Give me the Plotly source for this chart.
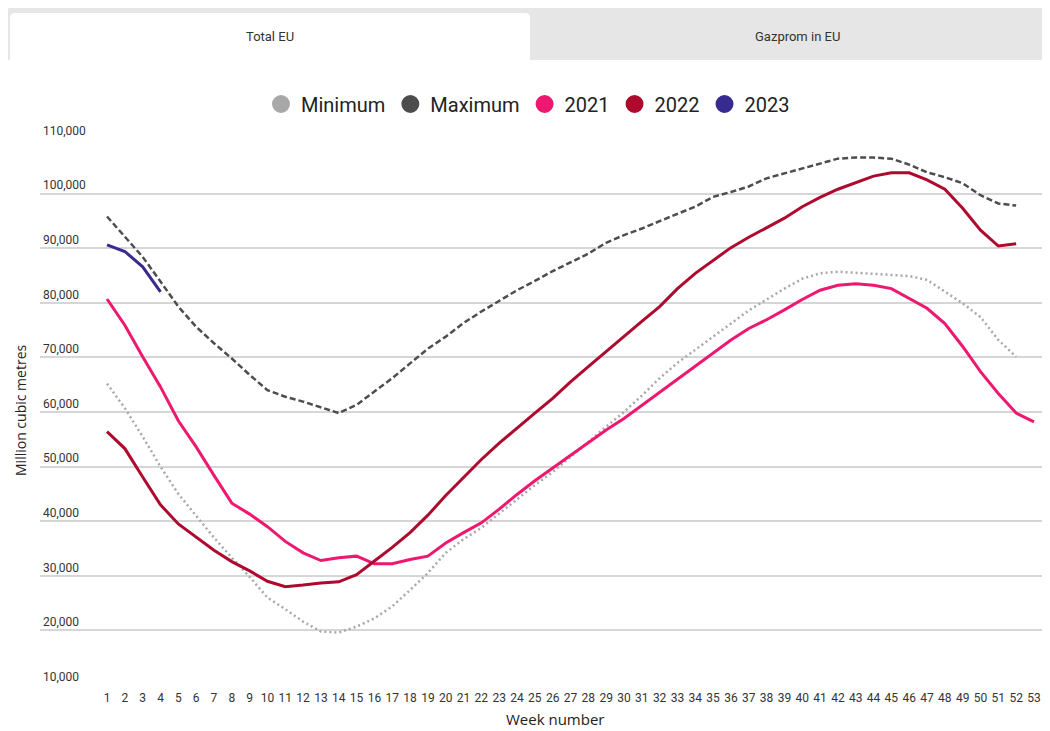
import plotly.graph_objects as go

# weekly gas storage, million cubic metres
weeks = list(range(1, 54))

minimum = [65200, 60700, 55500, 50000, 45000, 41000, 37000, 33300, 29800, 26000,
           23900, 21600, 19800, 19600, 20700, 22200, 24400, 27400, 30500, 34200,
           36700, 38800, 41400, 44000, 46600, 49000, 51800, 54600, 57300, 60000,
           63000, 66200, 69000, 71400, 73800, 76200, 78600, 80600, 82600, 84400,
           85400, 85700, 85500, 85400, 85200, 84900, 84200, 82000, 79900, 77400,
           73200, 70100]

maximum = [95800, 92100, 88400, 83900, 79300, 75600, 72600, 69800, 66800, 64000,
           62800, 61900, 60900, 59800, 61300, 63700, 66200, 68900, 71600, 73800,
           76300, 78400, 80400, 82300, 84000, 85800, 87400, 89000, 91000, 92400,
           93600, 95000, 96300, 97600, 99400, 100300, 101300, 102800, 103700, 104600,
           105600, 106400, 106600, 106600, 106400, 105300, 103900, 103000, 101900, 99700,
           98200, 97800]

y2021 = [80700, 75900, 70100, 64600, 58400, 53600, 48400, 43300, 41300, 39000,
         36300, 34200, 32800, 33300, 33600, 32200, 32200, 33000, 33600, 36000,
         37900, 39700, 42200, 44900, 47400, 49700, 52000, 54400, 56700, 58800,
         61200, 63500, 65900, 68300, 70700, 73200, 75300, 76900, 78700, 80600,
         82300, 83200, 83500, 83200, 82600, 80800, 79000, 76200, 72000, 67400,
         63400, 59800, 58200]

y2022 = [56400, 53300, 48100, 43000, 39500, 37100, 34700, 32600, 30900, 29000,
         28000, 28300, 28700, 28900, 30200, 32700, 35200, 37900, 41100, 44700,
         48000, 51300, 54300, 57100, 59800, 62500, 65500, 68300, 71100, 73800,
         76600, 79300, 82600, 85400, 87800, 90100, 92000, 93800, 95500, 97600,
         99300, 100800, 102000, 103200, 103800, 103800, 102500, 100800, 97300, 93300,
         90400, 90800]

y2023 = [90600, 89400, 86600, 82000]

y_ticks = list(range(10000, 110001, 10000))

series = [
    ("Minimum", minimum, "#a8a8a8", "2px,3px", 2.5),
    ("Maximum", maximum, "#4d4d4d", "6px,3px", 2.5),
    ("2021", y2021, "#ee1870", "solid", 3),
    ("2022", y2022, "#ad0a2e", "solid", 3),
    ("2023", y2023, "#372a90", "solid", 3),
]

# page has an 8px body margin, so positions are given in page pixels
OFF = 8
RIGHT, BOTTOM = 1042, 731  # page edges the figure runs to
W, H = RIGHT - OFF, BOTTOM - OFF
L, R, T, B = 40 - OFF, 0, 139 - OFF, BOTTOM - 685
PW, PH = W - L - R, H - T - B


def px(x):
    # page pixel -> paper x
    return (x - OFF - L) / PW


def py(y):
    # page pixel -> paper y
    return (H - B - (y - OFF)) / PH


fig = go.Figure()

for name, vals, color, dash, width in series:
    fig.add_trace(go.Scatter(
        x=weeks[:len(vals)], y=vals, mode="lines", name=name,
        line=dict(color=color, width=width, dash=dash),
        showlegend=False,
    ))
    # legend entry with round marker
    fig.add_trace(go.Scatter(
        x=[None], y=[None], mode="markers", name=name,
        marker=dict(size=16, color=color, line=dict(color=color, width=2)),
    ))

# tab bar
tab_l, tab_r, tab_t, tab_b = 10, 530, 13, 60
rr = 5
tab_path = (
    f"M {px(tab_l)} {py(tab_b)} L {px(tab_l)} {py(tab_t + rr)} "
    f"Q {px(tab_l)} {py(tab_t)} {px(tab_l + rr)} {py(tab_t)} "
    f"L {px(tab_r - rr)} {py(tab_t)} "
    f"Q {px(tab_r)} {py(tab_t)} {px(tab_r)} {py(tab_t + rr)} "
    f"L {px(tab_r)} {py(tab_b)} Z"
)
shapes = [
    dict(type="rect", xref="paper", yref="paper",
         x0=px(5), x1=px(RIGHT), y0=py(60), y1=py(8),
         fillcolor="#e6e6e6", line=dict(width=0), layer="below"),
    dict(type="path", xref="paper", yref="paper", path=tab_path,
         fillcolor="#ffffff", line=dict(width=0), layer="below"),
]

cond = "Roboto"
tab_font = dict(family=cond, size=13, color="#333333")
annotations = [
    dict(text="Total EU", xref="paper", yref="paper", x=px(270), y=py(36),
         xanchor="center", yanchor="middle", showarrow=False, font=tab_font),
    dict(text="Gazprom in EU", xref="paper", yref="paper", x=px(797), y=py(36),
         xanchor="center", yanchor="middle", showarrow=False, font=tab_font),
    dict(text="Million cubic metres", xref="paper", yref="paper", x=px(20), y=py(410),
         xanchor="center", yanchor="middle", textangle=-90, showarrow=False,
         font=dict(family="Open Sans", size=14, color="#222222")),
    dict(text="Week number", xref="paper", yref="paper", x=px(555), y=py(719),
         xanchor="center", yanchor="middle", showarrow=False,
         font=dict(family="Open Sans", size=15, color="#222222")),
]

fig.update_layout(
    width=W, height=H,
    margin=dict(l=L, r=R, t=T, b=B),
    paper_bgcolor="white", plot_bgcolor="white",
    shapes=shapes, annotations=annotations,
    legend=dict(
        orientation="h", x=px(528), y=py(104), xanchor="center", yanchor="middle",
        font=dict(family=cond, size=20, color="#222222"),
        itemclick=False, itemdoubleclick=False,
    ),
    xaxis=dict(
        range=[-2.76, 53.45], tickvals=weeks, showgrid=False, zeroline=False,
        showline=False, ticks="outside", ticklen=2, tickcolor="rgba(0,0,0,0)",
        tickfont=dict(family=cond, size=12, color="#333333"),
    ),
    yaxis=dict(
        range=[10000, 110000], tickvals=y_ticks, tickformat=",d",
        gridcolor="#d6d6d6", gridwidth=1.5, zeroline=False, showline=False,
        ticklabelposition="inside top", ticklabeloverflow="allow",
        tickfont=dict(family=cond, size=12, color="#333333"),
    ),
)

fig.write_html("out.html")
